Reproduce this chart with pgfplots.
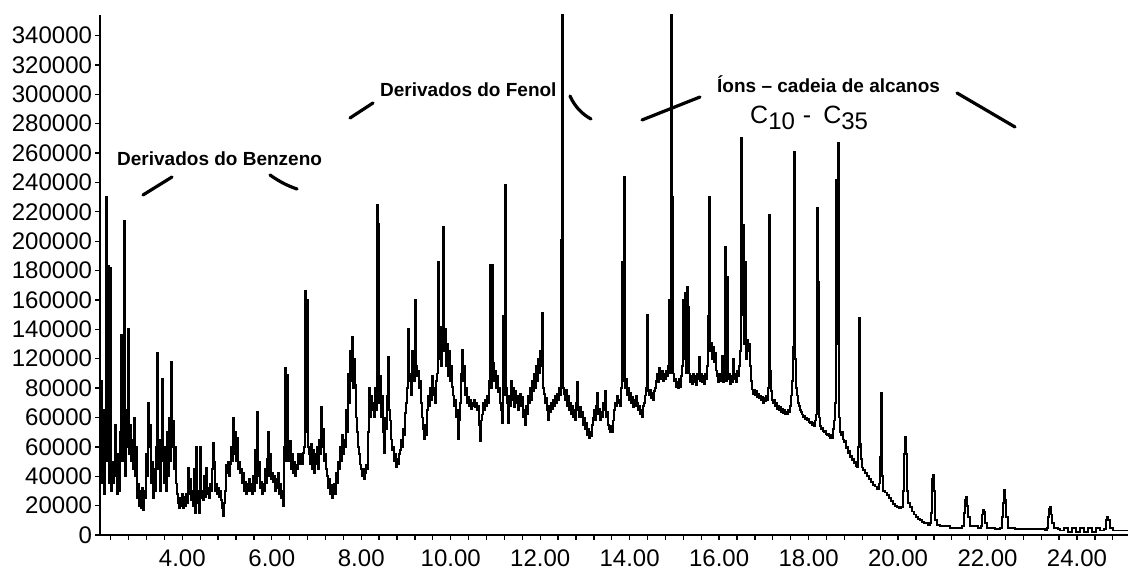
\documentclass[border=0pt]{standalone}
\usepackage{fontspec}
\setmainfont{Liberation Sans}
\usepackage{pgfplots}
\pgfplotsset{compat=1.18}
\begin{document}
\begin{tikzpicture}
\path[use as bounding box] (-100bp,-37bp) rectangle (1028bp,535bp);
\begin{axis}[
  at={(0,0)}, anchor=south west,
  scale only axis, width=1028bp, height=520bp,
  xmin=2.16, xmax=25.14, ymin=0, ymax=354000,
  axis lines=left,
  axis line style={-, line width=1.8bp},
  x axis line style={-}, y axis line style={-},
  xtick={4,6,...,24},
  xticklabels={4.00,6.00,8.00,10.00,12.00,14.00,16.00,18.00,20.00,22.00,24.00},
  minor xtick={2.4,2.8,...,25.0},
  ytick={0,20000,...,340000},
  yticklabels={0,20000,40000,60000,60000,80000,120000,140000,160000,180000,200000,220000,240000,260000,280000,300000,320000,340000},
  tick align=outside, major tick length=4.5bp, minor tick length=4.5bp,
  tick style={line width=1.3bp, black},
  scaled y ticks=false, scaled x ticks=false,
  /pgf/number format/assume math mode=true,
  ticklabel style={font=\fontsize{24bp}{28bp}\selectfont},
  xticklabel style={inner sep=1bp, yshift=-9bp},
]
\addplot[black, line width=1.8bp, line join=miter, miter limit=2, const plot, mark=none] coordinates {
(2.16,60000)(2.19,105000)(2.21,35000)(2.23,85000)(2.25,28000)(2.28,80000)(2.30,230000)(2.32,50000)(2.34,183000)(2.36,35000)
(2.39,182000)(2.41,30000)(2.43,50000)(2.45,35000)(2.48,45000)(2.50,75000)(2.52,40000)(2.54,28000)(2.57,55000)(2.59,30000)
(2.61,70000)(2.63,136000)(2.66,50000)(2.68,95000)(2.70,214000)(2.72,40000)(2.74,85000)(2.77,60000)(2.79,140000)(2.81,55000)
(2.83,75000)(2.86,50000)(2.88,65000)(2.90,45000)(2.92,80000)(2.95,40000)(2.97,60000)(2.99,25000)(3.01,35000)(3.03,20000)
(3.06,30000)(3.08,18000)(3.10,32000)(3.12,17000)(3.15,30000)(3.17,25000)(3.19,55000)(3.21,40000)(3.24,90000)(3.26,60000)
(3.28,75000)(3.30,35000)(3.33,50000)(3.35,25000)(3.37,45000)(3.39,30000)(3.41,60000)(3.44,124000)(3.46,45000)(3.48,65000)
(3.50,30000)(3.53,55000)(3.55,106000)(3.57,50000)(3.59,35000)(3.62,60000)(3.64,30000)(3.66,70000)(3.68,40000)(3.71,80000)
(3.73,50000)(3.75,118000)(3.77,60000)(3.79,78000)(3.82,45000)(3.84,60000)(3.86,35000)(3.88,28000)(3.91,22000)(3.93,18000)
(3.95,25000)(3.97,20000)(4.00,28000)(4.02,18000)(4.04,26000)(4.06,20000)(4.09,28000)(4.11,22000)(4.13,46000)(4.15,28000)
(4.17,38000)(4.20,24000)(4.22,30000)(4.24,20000)(4.26,45000)(4.29,15000)(4.31,60000)(4.33,22000)(4.35,30000)(4.38,15000)
(4.40,60000)(4.42,25000)(4.44,30000)(4.47,24000)(4.49,40000)(4.51,26000)(4.53,46000)(4.55,28000)(4.58,32000)(4.60,25000)
(4.62,35000)(4.64,30000)(4.67,45000)(4.69,63000)(4.71,50000)(4.73,30000)(4.76,35000)(4.78,28000)(4.80,32000)(4.82,26000)
(4.85,30000)(4.87,24000)(4.89,18000)(4.91,13000)(4.93,22000)(4.96,30000)(4.98,48000)(5.00,42000)(5.02,50000)(5.05,40000)
(5.07,48000)(5.09,60000)(5.11,50000)(5.14,80000)(5.16,55000)(5.18,70000)(5.20,50000)(5.22,66000)(5.25,45000)(5.27,50000)
(5.29,42000)(5.31,45000)(5.34,35000)(5.36,42000)(5.38,30000)(5.40,36000)(5.43,28000)(5.45,35000)(5.47,30000)(5.49,38000)
(5.52,30000)(5.54,35000)(5.56,28000)(5.58,40000)(5.60,30000)(5.63,58000)(5.65,35000)(5.67,84000)(5.69,40000)(5.72,50000)
(5.74,32000)(5.76,36000)(5.78,28000)(5.81,35000)(5.83,30000)(5.85,45000)(5.87,35000)(5.90,52000)(5.92,70000)(5.94,40000)
(5.96,55000)(5.98,38000)(6.01,42000)(6.03,36000)(6.05,40000)(6.07,30000)(6.10,38000)(6.12,32000)(6.14,42000)(6.16,28000)
(6.19,35000)(6.21,25000)(6.23,30000)(6.25,20000)(6.28,60000)(6.30,114000)(6.32,50000)(6.34,109000)(6.37,60000)(6.39,50000)
(6.41,64000)(6.43,45000)(6.45,55000)(6.48,42000)(6.50,50000)(6.52,40000)(6.54,48000)(6.57,45000)(6.59,55000)(6.61,50000)
(6.63,48000)(6.65,55000)(6.68,48000)(6.70,56000)(6.72,60000)(6.74,166000)(6.77,70000)(6.79,160000)(6.81,60000)(6.83,55000)
(6.86,48000)(6.88,62000)(6.90,45000)(6.92,58000)(6.95,42000)(6.97,55000)(6.99,48000)(7.01,60000)(7.03,45000)(7.06,65000)
(7.08,55000)(7.10,87000)(7.12,60000)(7.15,72000)(7.17,50000)(7.19,55000)(7.21,45000)(7.24,40000)(7.26,32000)(7.28,38000)
(7.30,28000)(7.33,34000)(7.35,25000)(7.37,30000)(7.39,35000)(7.42,28000)(7.44,42000)(7.46,35000)(7.48,50000)(7.50,45000)
(7.53,60000)(7.55,50000)(7.57,68000)(7.59,55000)(7.62,65000)(7.64,60000)(7.66,85000)(7.68,70000)(7.71,110000)(7.73,90000)
(7.75,125000)(7.77,105000)(7.80,135000)(7.82,100000)(7.84,120000)(7.86,102000)(7.88,80000)(7.91,70000)(7.93,60000)(7.95,55000)
(7.97,48000)(8.00,45000)(8.02,40000)(8.04,45000)(8.06,38000)(8.09,42000)(8.11,48000)(8.13,45000)(8.15,70000)(8.17,100000)
(8.20,80000)(8.22,95000)(8.24,85000)(8.26,90000)(8.29,80000)(8.31,100000)(8.33,85000)(8.35,225000)(8.38,212000)(8.40,90000)
(8.42,108000)(8.44,80000)(8.47,95000)(8.49,70000)(8.51,56000)(8.53,80000)(8.55,72000)(8.58,95000)(8.60,121000)(8.62,85000)
(8.64,78000)(8.67,65000)(8.69,58000)(8.71,60000)(8.73,50000)(8.76,55000)(8.78,46000)(8.80,52000)(8.82,48000)(8.85,55000)
(8.87,58000)(8.89,65000)(8.91,60000)(8.93,72000)(8.96,68000)(8.98,83000)(9.00,90000)(9.02,100000)(9.05,140000)(9.07,105000)
(9.09,110000)(9.11,95000)(9.14,125000)(9.16,110000)(9.18,105000)(9.20,160000)(9.23,115000)(9.25,108000)(9.27,112000)(9.29,100000)
(9.31,105000)(9.34,90000)(9.36,80000)(9.38,72000)(9.40,65000)(9.43,75000)(9.45,68000)(9.47,85000)(9.49,95000)(9.52,88000)
(9.54,100000)(9.56,92000)(9.58,108000)(9.60,95000)(9.63,100000)(9.65,90000)(9.67,105000)(9.69,110000)(9.72,186000)(9.74,120000)
(9.76,142000)(9.78,115000)(9.81,135000)(9.83,210000)(9.85,125000)(9.87,140000)(9.90,115000)(9.92,130000)(9.94,108000)(9.96,125000)
(9.99,105000)(10.01,115000)(10.03,101000)(10.05,95000)(10.07,88000)(10.10,92000)(10.12,80000)(10.14,85000)(10.16,65000)(10.19,78000)
(10.21,90000)(10.23,110000)(10.25,126000)(10.28,105000)(10.30,115000)(10.32,95000)(10.34,100000)(10.36,90000)(10.39,94000)(10.41,88000)
(10.43,92000)(10.45,86000)(10.48,90000)(10.50,88000)(10.52,92000)(10.54,87000)(10.57,90000)(10.59,85000)(10.61,88000)(10.63,75000)
(10.66,64000)(10.68,78000)(10.70,82000)(10.72,90000)(10.74,85000)(10.77,92000)(10.79,88000)(10.81,95000)(10.83,90000)(10.86,105000)
(10.88,184000)(10.90,100000)(10.92,184000)(10.95,117000)(10.97,105000)(10.99,112000)(11.01,100000)(11.04,108000)(11.06,97000)(11.08,100000)
(11.10,90000)(11.12,85000)(11.15,76000)(11.17,149000)(11.19,95000)(11.21,238000)(11.24,100000)(11.26,90000)(11.28,76000)(11.30,95000)
(11.33,88000)(11.35,105000)(11.37,92000)(11.39,100000)(11.42,87000)(11.44,98000)(11.46,90000)(11.48,95000)(11.50,85000)(11.53,92000)
(11.55,96000)(11.57,88000)(11.59,94000)(11.62,80000)(11.64,85000)(11.66,75000)(11.68,88000)(11.71,82000)(11.73,95000)(11.75,90000)
(11.77,100000)(11.79,92000)(11.82,105000)(11.84,98000)(11.86,110000)(11.88,100000)(11.91,115000)(11.93,105000)(11.95,120000)(11.97,110000)
(12.00,125000)(12.02,115000)(12.04,151000)(12.06,100000)(12.09,96000)(12.11,90000)(12.13,93000)(12.15,85000)(12.18,78000)(12.20,88000)
(12.22,84000)(12.24,90000)(12.26,86000)(12.29,92000)(12.31,88000)(12.33,95000)(12.35,90000)(12.38,96000)(12.40,92000)(12.42,100000)
(12.44,95000)(12.47,201000)(12.49,360000)(12.51,100000)(12.53,96000)(12.56,92000)(12.58,99000)(12.60,88000)(12.62,95000)(12.64,85000)
(12.67,90000)(12.69,82000)(12.71,88000)(12.73,80000)(12.76,85000)(12.78,78000)(12.80,90000)(12.82,104000)(12.85,85000)(12.87,80000)
(12.89,87000)(12.91,80000)(12.94,84000)(12.96,75000)(12.98,80000)(13.00,72000)(13.02,76000)(13.05,68000)(13.07,72000)(13.09,66000)
(13.11,70000)(13.14,67000)(13.16,75000)(13.18,80000)(13.20,85000)(13.23,78000)(13.25,88000)(13.27,97000)(13.29,82000)(13.31,86000)
(13.34,78000)(13.36,84000)(13.38,80000)(13.40,90000)(13.43,85000)(13.45,98000)(13.47,80000)(13.49,84000)(13.52,75000)(13.54,72000)
(13.56,70000)(13.58,74000)(13.61,70000)(13.63,78000)(13.65,85000)(13.67,90000)(13.69,88000)(13.72,95000)(13.74,90000)(13.76,92000)
(13.78,88000)(13.81,100000)(13.83,186000)(13.85,105000)(13.87,244000)(13.90,100000)(13.92,106000)(13.94,95000)(13.96,100000)(13.99,92000)
(14.01,97000)(14.03,90000)(14.05,94000)(14.07,87000)(14.10,92000)(14.12,88000)(14.14,95000)(14.16,90000)(14.19,85000)(14.21,88000)
(14.23,82000)(14.25,85000)(14.28,80000)(14.30,88000)(14.32,90000)(14.34,95000)(14.36,100000)(14.39,150000)(14.41,98000)(14.43,95000)
(14.45,99000)(14.48,93000)(14.50,97000)(14.52,92000)(14.54,98000)(14.57,100000)(14.59,105000)(14.61,110000)(14.63,104000)(14.66,114000)
(14.68,106000)(14.70,108000)(14.72,112000)(14.74,105000)(14.77,110000)(14.79,106000)(14.81,112000)(14.83,108000)(14.86,115000)(14.88,160000)
(14.90,110000)(14.92,360000)(14.95,230000)(14.97,110000)(14.99,105000)(15.01,106000)(15.04,101000)(15.06,104000)(15.08,100000)(15.10,106000)
(15.13,101000)(15.15,108000)(15.17,115000)(15.19,160000)(15.21,120000)(15.24,165000)(15.26,110000)(15.28,169000)(15.30,155000)(15.33,110000)
(15.35,104000)(15.37,108000)(15.39,103000)(15.42,110000)(15.44,104000)(15.46,108000)(15.48,102000)(15.50,110000)(15.53,106000)(15.55,121000)
(15.57,105000)(15.59,110000)(15.62,104000)(15.64,108000)(15.66,103000)(15.68,110000)(15.71,106000)(15.73,115000)(15.75,149000)(15.77,230000)
(15.80,125000)(15.82,131000)(15.84,120000)(15.86,128000)(15.88,118000)(15.91,124000)(15.93,112000)(15.95,108000)(15.97,104000)(16.00,110000)
(16.02,105000)(16.04,108000)(16.06,122000)(16.09,104000)(16.11,110000)(16.13,196000)(16.15,105000)(16.18,176000)(16.20,106000)(16.22,110000)
(16.24,103000)(16.26,108000)(16.29,104000)(16.31,120000)(16.33,106000)(16.35,110000)(16.38,104000)(16.40,112000)(16.42,108000)(16.44,115000)
(16.47,125000)(16.49,270000)(16.51,150000)(16.53,211000)(16.56,130000)(16.58,186000)(16.60,120000)(16.62,133000)(16.65,125000)(16.67,130000)
(16.69,115000)(16.71,105000)(16.73,99000)(16.76,96000)(16.78,99000)(16.80,95000)(16.82,98000)(16.85,94000)(16.87,96000)(16.89,93000)
(16.91,95000)(16.94,92000)(16.96,94000)(16.98,90000)(17.00,93000)(17.02,91000)(17.05,95000)(17.07,92000)(17.09,100000)(17.11,218000)
(17.14,112000)(17.16,98000)(17.18,92000)(17.20,90000)(17.23,92000)(17.25,88000)(17.27,90000)(17.29,86000)(17.31,88000)(17.34,85000)
(17.36,87000)(17.38,84000)(17.41,86000)(17.43,83000)(17.45,85000)(17.47,82000)(17.49,84000)(17.52,82000)(17.54,85000)(17.56,84000)
(17.58,88000)(17.61,95000)(17.63,105000)(17.65,128000)(17.67,261000)(17.70,120000)(17.72,100000)(17.74,95000)(17.76,90000)(17.78,88000)
(17.81,85000)(17.83,84000)(17.85,82000)(17.87,80000)(17.90,81000)(17.92,79000)(17.94,80000)(17.96,78000)(17.99,79000)(18.01,77000)
(18.03,76000)(18.05,77000)(18.08,75000)(18.10,76000)(18.12,74000)(18.14,78000)(18.16,82000)(18.19,223000)(18.21,172000)(18.23,80000)
(18.25,74000)(18.28,72000)(18.30,73000)(18.32,71000)(18.34,70000)(18.37,71000)(18.39,69000)(18.41,68000)(18.43,69000)(18.45,67000)
(18.48,66000)(18.50,68000)(18.52,66000)(18.54,72000)(18.57,78000)(18.59,90000)(18.61,242000)(18.63,130000)(18.66,267000)(18.68,80000)
(18.70,70000)(18.72,68000)(18.75,70000)(18.77,65000)(18.79,63000)(18.81,64000)(18.83,59000)(18.86,60000)(18.88,56000)(18.90,57000)
(18.92,53000)(18.95,54000)(18.97,51000)(18.99,52000)(19.01,49000)(19.04,50000)(19.06,47000)(19.08,46000)(19.10,60000)(19.13,148000)
(19.15,62000)(19.17,52000)(19.19,46000)
(19.21,44000)(19.26,42000)(19.30,40000)(19.35,38000)(19.39,36000)(19.44,34000)(19.48,33000)(19.53,31000)(19.57,35000)(19.59,53000)
(19.62,97000)(19.64,40000)(19.66,30000)(19.71,29000)(19.75,27000)(19.80,25000)(19.84,23000)(19.88,21000)(19.93,20000)(19.97,19000)
(20.02,18000)(20.06,19000)(20.11,30000)(20.13,55000)(20.15,67000)(20.18,55000)(20.20,30000)(20.22,22000)(20.26,19000)(20.31,16000)
(20.35,14000)(20.40,12000)(20.44,11000)(20.49,10000)(20.53,9000)(20.58,8000)(20.62,8000)(20.67,7000)(20.71,8000)(20.73,15000)
(20.76,38000)(20.78,41000)(20.80,30000)(20.82,10000)(20.87,7000)(20.94,6000)(21.05,6000)(21.16,5000)(21.27,5000)(21.38,5000)
(21.43,6000)(21.47,15000)(21.49,24000)(21.52,26000)(21.54,20000)(21.56,12000)(21.61,6000)(21.72,6000)(21.78,5000)(21.85,6000)
(21.87,14000)(21.90,17000)(21.92,16000)(21.94,8000)(21.99,5000)(22.05,5000)(22.16,4000)(22.28,5000)(22.32,12000)(22.34,22000)
(22.37,31000)(22.39,24000)(22.41,12000)(22.45,5000)(22.61,4000)(22.83,4000)(23.06,4000)(23.28,3000)(23.33,5000)(23.35,12000)
(23.37,18000)(23.39,19000)(23.42,14000)(23.44,8000)(23.48,5000)(23.57,4000)(23.62,3000)(23.71,5000)(23.80,2000)(23.88,5000)
(23.97,2000)(24.06,5000)(24.15,2000)(24.24,5000)(24.33,2000)(24.42,5000)(24.51,3000)(24.60,4000)(24.64,10000)(24.67,12000)
(24.69,10000)(24.73,5000)(24.80,3000)(25.14,3000)
};
\end{axis}
% annotations
\begin{scope}[line width=3.2bp, line cap=round]
\draw (43bp,340bp) -- (72bp,358bp);
\draw (170bp,360bp) .. controls (180bp,353bp) and (188bp,349bp) .. (197bp,346bp);
\draw (250bp,417bp) -- (273bp,432bp);
\draw (470bp,439bp) .. controls (475bp,428bp) and (482bp,421bp) .. (491bp,416bp);
\draw (542bp,415bp) -- (600bp,438bp);
\draw (857bp,442bp) -- (915bp,408bp);
\end{scope}
\node[anchor=base west, inner sep=0pt, font=\bfseries\fontsize{19bp}{22bp}\selectfont] at (17bp,369bp) {Derivados do Benzeno};
\node[anchor=base west, inner sep=0pt, font=\bfseries\fontsize{19bp}{22bp}\selectfont] at (280bp,438bp) {Derivados do Fenol};
\node[anchor=base west, inner sep=0pt, font=\bfseries\fontsize{19bp}{22bp}\selectfont] at (617bp,442bp) {Íons – cadeia de alcanos};
\node[anchor=base west, inner sep=0pt, font=\fontsize{25bp}{30bp}\selectfont] at (650bp,411bp) {C\raisebox{-6bp}{\fontsize{24bp}{28bp}\selectfont 10}\hspace{8bp}-\hspace{12bp}C\raisebox{-6bp}{\fontsize{24bp}{28bp}\selectfont 35}};
\end{tikzpicture}
\end{document}
